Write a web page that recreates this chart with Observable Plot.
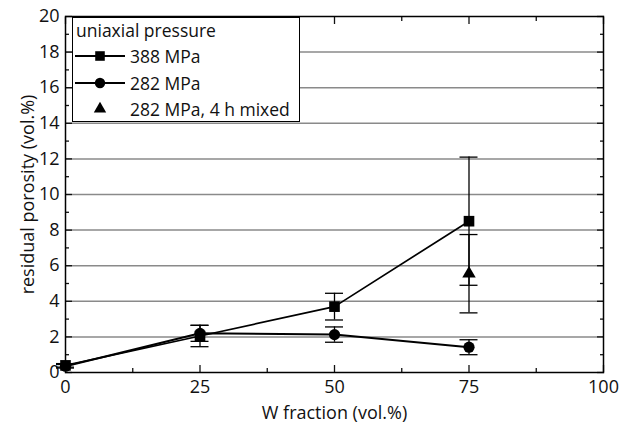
<!DOCTYPE html>
<html>
<head>
<meta charset="utf-8">
<script src="https://cdn.jsdelivr.net/npm/d3@7"></script>
<script src="https://cdn.jsdelivr.net/npm/@observablehq/plot@0.6"></script>
<style>
  html, body { margin: 0; padding: 0; background: #fff; }
  #wrap { position: relative; width: 633px; height: 423px; font-family: "Open Sans", sans-serif; }
  #legend { position: absolute; left: 72px; top: 17px; width: 228px; height: 105px; background: #fff;
            border: 1.5px solid #000; box-sizing: border-box; font-size: 17.5px; color: #111; }
  #legend .title { position: absolute; left: 3px; top: 0px; line-height: 24px; }
  #legend .row { position: absolute; left: 0; height: 26px; display: flex; align-items: center; }
  #legend .row span { margin-left: 3px; }
</style>
</head>
<body>
<div id="wrap"></div>
<script>
// ---- data ----
const wFraction = [0, 25, 50, 75];
const porosity388 = [0.4, 2.05, 3.7, 8.5];
const error388 = [0.1, 0.6, 0.75, 3.6];
const porosity282 = [0.35, 2.2, 2.13, 1.42];
const error282 = [0.1, 0.45, 0.43, 0.42];
const mixedX = [75];
const mixedPorosity = [5.55];
const mixedError = [2.2];
const seriesNames = ["388 MPa", "282 MPa", "282 MPa, 4 h mixed"];
const legendTitle = "uniaxial pressure";
const xTicks = [0, 25, 50, 75, 100];
const xMinor = [12.5, 37.5, 62.5, 87.5];
const yTicks = [0, 2, 4, 6, 8, 10, 12, 14, 16, 18, 20];
const yMinor = [1, 3, 5, 7, 9, 11, 13, 15, 17, 19];
const yGrid = [2, 4, 6, 8, 10, 12, 14, 16, 18];

const mk = (xs, ys, es) => xs.map((x, i) => ({x, y: ys[i], lo: ys[i] - es[i], hi: ys[i] + es[i]}));
const s388 = mk(wFraction, porosity388, error388);
const s282 = mk(wFraction, porosity282, error282);
const sMix = mk(mixedX, mixedPorosity, mixedError);

function errorMarks(data) {
  return [
    Plot.ruleX(data, {x: "x", y1: "lo", y2: "hi", stroke: "#000", strokeWidth: 1.3}),
    Plot.ruleY(data, {y: "hi", x1: "x", x2: "x", insetLeft: -9, insetRight: -9, stroke: "#000", strokeWidth: 1.3}),
    Plot.ruleY(data, {y: "lo", x1: "x", x2: "x", insetLeft: -9, insetRight: -9, stroke: "#000", strokeWidth: 1.3})
  ];
}

const FS = 18;
const chart = Plot.plot({
  width: 633,
  height: 423,
  marginLeft: 65,
  marginRight: 30,
  marginTop: 16,
  marginBottom: 51,
  style: {fontFamily: "Open Sans, sans-serif", fontSize: FS + "px", color: "#111", background: "#fff"},
  x: {domain: [0, 100]},
  y: {domain: [0, 20]},
  marks: [
    Plot.ruleY(yGrid, {stroke: "#8a8a8a", strokeWidth: 1.5}),
    // tick labels
    Plot.axisX(xTicks, {anchor: "bottom", tickSize: 0, tickPadding: 8, label: "W fraction (vol.%)", labelAnchor: "center", labelArrow: "none", labelOffset: 46, fontSize: FS}),
    Plot.axisY(yTicks, {anchor: "left", tickSize: 0, tickPadding: 6, label: "residual porosity (vol.%)", labelAnchor: "center", labelArrow: "none", labelOffset: 44, fontSize: FS}),
    // inward ticks
    Plot.axisX(xTicks, {anchor: "bottom", tickSize: -7, tickFormat: () => "", label: null, strokeWidth: 1.3}),
    Plot.axisX(xMinor, {anchor: "bottom", tickSize: -4, tickFormat: () => "", label: null, strokeWidth: 1.3}),
    Plot.axisX(xTicks, {anchor: "top", tickSize: -7, tickFormat: () => "", label: null, strokeWidth: 1.3}),
    Plot.axisX(xMinor, {anchor: "top", tickSize: -4, tickFormat: () => "", label: null, strokeWidth: 1.3}),
    Plot.axisY(yTicks, {anchor: "left", tickSize: -7, tickFormat: () => "", label: null, strokeWidth: 1.3}),
    Plot.axisY(yMinor, {anchor: "left", tickSize: -4, tickFormat: () => "", label: null, strokeWidth: 1.3}),
    Plot.axisY(yTicks, {anchor: "right", tickSize: -7, tickFormat: () => "", label: null, strokeWidth: 1.3}),
    Plot.axisY(yMinor, {anchor: "right", tickSize: -4, tickFormat: () => "", label: null, strokeWidth: 1.3}),
    ...errorMarks(s388),
    ...errorMarks(s282),
    ...errorMarks(sMix),
    Plot.line(s388, {x: "x", y: "y", stroke: "#000", strokeWidth: 1.7}),
    Plot.line(s282, {x: "x", y: "y", stroke: "#000", strokeWidth: 2}),
    Plot.dot(s388, {x: "x", y: "y", symbol: "square", r: 6, fill: "#000", stroke: "none"}),
    Plot.dot(s282, {x: "x", y: "y", symbol: "circle", r: 5.6, fill: "#000", stroke: "none"}),
    Plot.dot(sMix, {x: "x", y: "y", symbol: "triangle", r: 5, fill: "#000", stroke: "none"}),
    Plot.frame({stroke: "#000", strokeWidth: 1.5})
  ]
});

const wrap = document.getElementById("wrap");
wrap.appendChild(chart);

// legend overlay
const legend = document.createElement("div");
legend.id = "legend";
const title = document.createElement("div");
title.className = "title";
title.textContent = legendTitle;
legend.appendChild(title);
const symbols = ["square", "circle", "triangle"];
const rowsTop = [25, 52, 78];
seriesNames.forEach((name, i) => {
  const row = document.createElement("div");
  row.className = "row";
  row.style.top = rowsTop[i] + "px";
  const svgNS = "http://www.w3.org/2000/svg";
  const svg = document.createElementNS(svgNS, "svg");
  svg.setAttribute("width", "54");
  svg.setAttribute("height", "26");
  if (i < 2) {
    const ln = document.createElementNS(svgNS, "line");
    ln.setAttribute("x1", "2"); ln.setAttribute("x2", "52");
    ln.setAttribute("y1", "13"); ln.setAttribute("y2", "13");
    ln.setAttribute("stroke", "#000"); ln.setAttribute("stroke-width", "1.8");
    svg.appendChild(ln);
  }
  const p = document.createElementNS(svgNS, "path");
  const sym = {square: d3.symbolSquare, circle: d3.symbolCircle, triangle: d3.symbolTriangle}[symbols[i]];
  const r = [5.4, 5.2, 4.6][i];
  p.setAttribute("d", d3.symbol(sym, Math.PI * r * r)());
  p.setAttribute("transform", "translate(27,13)");
  p.setAttribute("fill", "#000");
  svg.appendChild(p);
  row.appendChild(svg);
  const sp = document.createElement("span");
  sp.textContent = name;
  row.appendChild(sp);
  legend.appendChild(row);
});
wrap.appendChild(legend);
</script>
</body>
</html>
